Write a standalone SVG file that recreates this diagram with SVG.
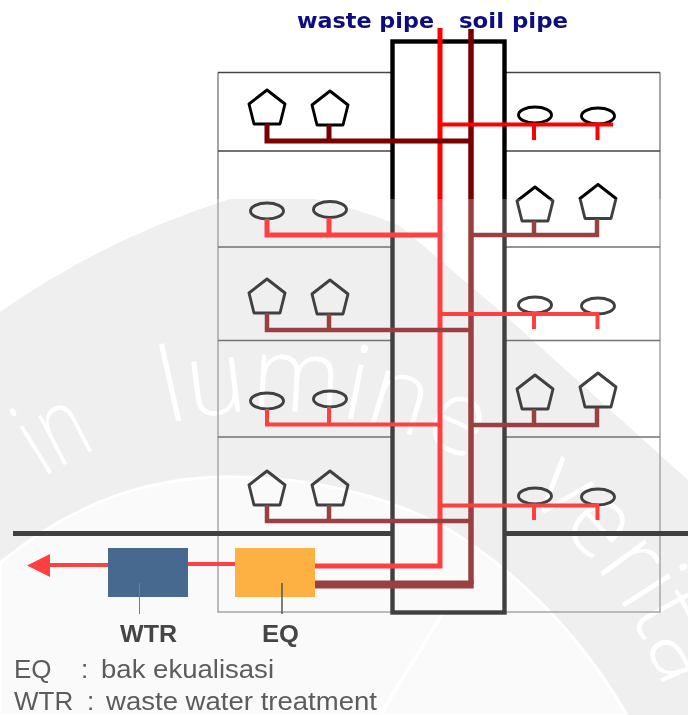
<svg xmlns="http://www.w3.org/2000/svg" xmlns:xlink="http://www.w3.org/1999/xlink" width="688" height="715" viewBox="0 0 688 715">
<style>
.thin{stroke:#444;stroke-width:1.5;fill:none}
.wall{stroke:#888;stroke-width:1.5;fill:none}
.core{stroke:#000;stroke-width:4.4;fill:none}
.ground{stroke:#000;stroke-width:5;fill:none}
.r{stroke:#f00;fill:none;stroke-width:4}
.d{stroke:#7a0000;fill:none;stroke-width:4.5}
.fx{fill:none;stroke:#000;stroke-width:2.9;stroke-linejoin:round}
.lbl{font-family:"Liberation Sans",Arial,sans-serif;font-weight:bold;font-size:23px;fill:#444}
.leg{font-family:"Liberation Sans",Arial,sans-serif;font-size:26px;fill:#5c5c5c}
.hdr{font-family:"DejaVu Sans",Verdana,sans-serif;font-weight:bold;font-size:21px;fill:#0b0b80}
.wm{font-family:"Open Sans",sans-serif;font-weight:300;font-size:104px;fill:#fff}
</style>
<defs>
<polygon id="pent" points="0,-34 18,-20 13,0 -13,0 -18,-20" class="fx"/>
<ellipse id="oval" rx="16.5" ry="8" class="fx"/>
<clipPath id="below"><rect x="0" y="199" width="688" height="516"/></clipPath>
<path id="arc" d="M40 480A418 418 0 0 1 688 830"/>
<filter id="soft" x="-2%" y="-2%" width="104%" height="104%"><feGaussianBlur stdDeviation="0.7"/></filter>
</defs>
<rect width="688" height="715" fill="#fff"/>
<g id="watermark" clip-path="url(#below)">
<path d="M0 312Q110 235 240 196L300 196Q350 205 400 226L507 317L688 480V715H0Z" fill="#eaeaea"/>
<path d="M0 563Q100 480 219 477Q350 475 450 530Q560 600 627 715H0Z" fill="#f8f8f8" stroke="#fff" stroke-width="3"/>
<path d="M380 715L443 613" stroke="#fff" stroke-width="4" fill="none"/>
<text class="wm"><textPath xlink:href="#arc" href="#arc" startOffset="4" textLength="62" lengthAdjust="spacingAndGlyphs">in</textPath></text>
<text class="wm"><textPath xlink:href="#arc" href="#arc" startOffset="140" textLength="312" lengthAdjust="spacingAndGlyphs">lumine</textPath></text>
<text class="wm"><textPath xlink:href="#arc" href="#arc" startOffset="518" textLength="240" lengthAdjust="spacingAndGlyphs">verita</textPath></text>
</g>
<g filter="url(#soft)">
<g id="building">
<path class="wall" d="M218 72.5V612H392M505 612H660V72.5"/>
<path class="thin" d="M218 72.5H392M505 72.5H660M218 151H392M505 151H660M218 247H392M505 247H660M218 340.500H392M505 340.500H660M218 437H392M505 437H660"/>
<path class="ground" d="M13 533.500H392M505 533.500H688"/>
<rect id="core" class="core" x="392.500" y="41.500" width="112" height="571"/>
</g>
<g id="fixtures">
<g id="f1-l1"><use href="#pent" x="267" y="124"/></g>
<g id="f1-l2"><use href="#pent" x="330" y="125"/></g>
<g id="f1-r1"><use href="#oval" x="535" y="115"/></g>
<g id="f1-r2"><use href="#oval" x="598" y="116"/></g>
<g id="f2-l1"><use href="#oval" x="267" y="211"/></g>
<g id="f2-l2"><use href="#oval" x="330" y="209.500"/></g>
<g id="f2-r1"><use href="#pent" x="535" y="221"/></g>
<g id="f2-r2"><use href="#pent" x="598" y="218.500"/></g>
<g id="f3-l1"><use href="#pent" x="267" y="313"/></g>
<g id="f3-l2"><use href="#pent" x="330" y="314"/></g>
<g id="f3-r1"><use href="#oval" x="535" y="305"/></g>
<g id="f3-r2"><use href="#oval" x="598" y="306"/></g>
<g id="f4-l1"><use href="#oval" x="267" y="401"/></g>
<g id="f4-l2"><use href="#oval" x="330" y="399"/></g>
<g id="f4-r1"><use href="#pent" x="535" y="409"/></g>
<g id="f4-r2"><use href="#pent" x="598" y="407"/></g>
<g id="f5-l1"><use href="#pent" x="267" y="505"/></g>
<g id="f5-l2"><use href="#pent" x="330" y="505"/></g>
<g id="f5-r1"><use href="#oval" x="535" y="496"/></g>
<g id="f5-r2"><use href="#oval" x="598" y="497"/></g>
</g>
<g id="connectors">
<path class="r" style="stroke-width:5" d="M440 28V566H315"/>
<path class="r" d="M235 564H188M108 565H48"/>
<polygon points="27,565.500 50,554 50,577" fill="#f00"/>
<path class="r" style="stroke-width:5" d="M267 219V235H440M329 218V235"/>
<path class="r" d="M267 409V424.500H440M329 407V424.500"/>
<path class="d" d="M267 124V141H471M329 125V141" style="stroke-width:5"/>
<path class="d" d="M267 313V330H471M329 314V330"/>
<path class="d" d="M267 505V521H471M329 505V521"/>
<path class="d" style="stroke-width:5.500" d="M471 29V584"/>
<path class="d" style="stroke-width:8" d="M315 584.500H473.700"/>
<path class="d" d="M471 235H597V219M534 221V235"/>
<path class="d" d="M471 425H597V408M534 409V425"/>
<path class="r" d="M440 124.500H613M534 124.500V140M597.500 124.500V140"/>
<path class="r" d="M440 314H599M534 314V329M597.500 314V329"/>
<path class="r" d="M440 505.500H599M534 505.500V520M597.500 505.500V520"/>
</g>
</g>
<rect id="fade" x="0" y="199" width="688" height="516" fill="#fff" fill-opacity="0.25"/>
<g filter="url(#soft)">
<g id="WTR"><rect x="108" y="548" width="80" height="49" fill="#47698f"/><path d="M139.500 583V614" stroke="#7c7c7c" stroke-width="1" fill="none"/><text class="lbl" x="120" y="642" textLength="57" lengthAdjust="spacingAndGlyphs">WTR</text></g>
<g id="EQ"><rect x="235" y="548" width="80" height="49" fill="#fcb143"/><path d="M282 583V614" stroke="#555" stroke-width="1.500" fill="none"/><text class="lbl" x="262" y="642" textLength="37" lengthAdjust="spacingAndGlyphs">EQ</text></g>
<g id="legend">
<text class="leg" y="678"><tspan x="14">EQ</tspan><tspan x="81">:</tspan><tspan x="101" textLength="173" lengthAdjust="spacingAndGlyphs">bak ekualisasi</tspan></text>
<text class="leg" y="710"><tspan x="14">WTR</tspan><tspan x="87">:</tspan><tspan x="106" textLength="271" lengthAdjust="spacingAndGlyphs">waste water treatment</tspan></text>
</g>
<g id="headers">
<text class="hdr" x="297" y="28" textLength="137" lengthAdjust="spacingAndGlyphs">waste pipe</text>
<text class="hdr" x="459" y="28" textLength="109" lengthAdjust="spacingAndGlyphs">soil pipe</text>
</g>
</g>
</svg>
